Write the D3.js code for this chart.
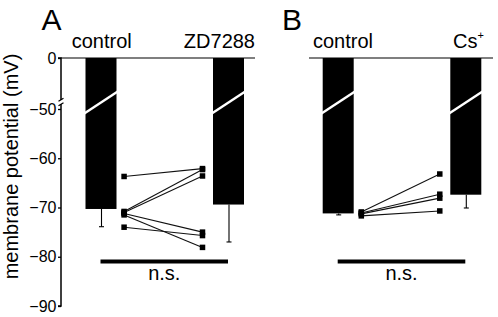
<!DOCTYPE html>
<html>
<head>
<meta charset="utf-8">
<script src="https://cdn.jsdelivr.net/npm/d3@7"></script>
<style>
  body { margin: 0; background: #fff; }
  svg { display: block; font-family: "Liberation Sans", Arial, sans-serif; }
</style>
</head>
<body>
<div id="container"></div>
<script>
const width = 498, height = 317;

// panel A: control vs ZD7288 (mV)
const groupsA = ["control", "ZD7288"];
const meanA = [-70.3, -69.4];
const errA = [-73.9, -77.0];
const pairsA_pre = [-63.7, -70.8, -71.0, -71.2, -71.5, -74.0];
const pairsA_post = [-62.1, -62.3, -63.6, -75.0, -78.1, -75.7];

// panel B: control vs Cs+
const groupsB = ["control", "Cs"];
const meanB = [-71.2, -67.4];
const errB = [-71.5, -70.1];
const pairsB_pre = [-70.9, -71.1, -71.3, -71.7];
const pairsB_post = [-63.2, -67.3, -68.1, -70.7];

const yTicks = [0, -50, -60, -70, -80, -90];

const svg = d3.select("#container").append("svg")
    .attr("width", width).attr("height", height);

// broken axis: 0..-50 squeezed, -50..-90 expanded
const y = d3.scaleLinear().domain([0, -50, -90]).range([58, 109, 306]);

const barW = 31;
const breakY = 102;

function panel(opts) {
    const x = d3.scaleLinear().domain([0, 1]).range(opts.centers);
    const g = svg.append("g");

    // top line at 0 mV
    g.append("line")
        .attr("x1", opts.lineX[0]).attr("x2", opts.lineX[1])
        .attr("y1", y(0)).attr("y2", y(0))
        .attr("stroke", "#000").attr("stroke-width", 1.2);

    // error bars
    g.selectAll("line.err").data(opts.err).join("line")
        .attr("class", "err")
        .attr("x1", (d, i) => x(i) + 1).attr("x2", (d, i) => x(i) + 1)
        .attr("y1", (d, i) => y(opts.mean[i])).attr("y2", d => y(d))
        .attr("stroke", "#000").attr("stroke-width", 1.1);
    g.selectAll("line.cap").data(opts.err).join("line")
        .attr("class", "cap")
        .attr("x1", (d, i) => x(i) - 1.5).attr("x2", (d, i) => x(i) + 3.5)
        .attr("y1", d => y(d)).attr("y2", d => y(d))
        .attr("stroke", "#000").attr("stroke-width", 1.1);

    // bars
    g.selectAll("rect.bar").data(opts.mean).join("rect")
        .attr("class", "bar")
        .attr("x", (d, i) => x(i) - barW / 2 + 0.5)
        .attr("width", barW)
        .attr("y", y(0))
        .attr("height", d => y(d) - y(0))
        .attr("fill", "#000");

    // white slash for the axis break
    g.selectAll("line.slash").data(opts.mean).join("line")
        .attr("class", "slash")
        .attr("x1", (d, i) => x(i) - barW / 2 - 1.5)
        .attr("x2", (d, i) => x(i) + barW / 2 + 2.5)
        .attr("y1", breakY + 12).attr("y2", breakY - 11)
        .attr("stroke", "#fff").attr("stroke-width", 2.4);

    // paired lines
    const px0 = x(0.185), px1 = x(0.8);
    g.selectAll("line.pair").data(opts.pre).join("line")
        .attr("class", "pair")
        .attr("x1", px0).attr("x2", px1)
        .attr("y1", d => y(d)).attr("y2", (d, i) => y(opts.post[i]))
        .attr("stroke", "#111").attr("stroke-width", 1.1);
    const s = 5.5;
    g.selectAll("rect.pre").data(opts.pre).join("rect")
        .attr("class", "pre")
        .attr("x", px0 - s / 2).attr("y", d => y(d) - s / 2)
        .attr("width", s).attr("height", s).attr("fill", "#000");
    g.selectAll("rect.post").data(opts.post).join("rect")
        .attr("class", "post")
        .attr("x", px1 - s / 2).attr("y", d => y(d) - s / 2)
        .attr("width", s).attr("height", s).attr("fill", "#000");

    // n.s. bracket
    g.append("line")
        .attr("x1", x(0)).attr("x2", x(1))
        .attr("y1", 261.5).attr("y2", 261.5)
        .attr("stroke", "#000").attr("stroke-width", 4.2);
    g.append("text")
        .attr("x", x(0.5)).attr("y", 280)
        .attr("text-anchor", "middle")
        .attr("font-size", 20)
        .text("n.s.");

    // panel letter
    g.append("text")
        .attr("x", opts.letterX).attr("y", 30)
        .attr("font-size", 30)
        .text(opts.letter);

    return { g, x };
}

const A = panel({
    centers: [100.5, 228], lineX: [60.7, 255],
    mean: meanA, err: errA, pre: pairsA_pre, post: pairsA_post,
    letter: "A", letterX: 41.5
});
A.g.append("text").attr("x", 101.7).attr("y", 48)
    .attr("text-anchor", "middle").attr("font-size", 20).text(groupsA[0]);
A.g.append("text").attr("x", 255).attr("y", 48)
    .attr("text-anchor", "end").attr("font-size", 20).text(groupsA[1]);

const B = panel({
    centers: [337.7, 465.3], lineX: [309, 493],
    mean: meanB, err: errB, pre: pairsB_pre, post: pairsB_post,
    letter: "B", letterX: 282
});
B.g.append("text").attr("x", 343).attr("y", 48)
    .attr("text-anchor", "middle").attr("font-size", 20).text(groupsB[0]);
const cs = B.g.append("text").attr("x", 453).attr("y", 48)
    .attr("font-size", 20);
cs.append("tspan").text(groupsB[1]);
cs.append("tspan").attr("font-size", 11).attr("dy", -9).text("+");

// y axis (panel A only)
const axis = svg.append("g")
    .attr("transform", "translate(61,0)")
    .call(d3.axisLeft(y).tickValues(yTicks).tickSize(3).tickPadding(1.5).tickFormat(d3.format("d")));
axis.select(".domain").attr("stroke-width", 1.5)
    .attr("d", `M-3,${y(0)}H0V${y(-90)}H-3`);
axis.selectAll(".tick line").attr("stroke-width", 1.3);
axis.selectAll(".tick text")
    .attr("font-size", 16)
    .attr("font-family", "Liberation Sans, Arial, sans-serif")
    .attr("fill", "#000");

// break marks on the axis
axis.append("rect").attr("x", -3).attr("y", breakY - 2).attr("width", 6).attr("height", 4).attr("fill", "#fff");
axis.selectAll("line.brk").data([-2.2, 2.2]).join("line")
    .attr("class", "brk")
    .attr("x1", -2.5).attr("x2", 2.5)
    .attr("y1", d => breakY + d + 1.5).attr("y2", d => breakY + d - 1.5)
    .attr("stroke", "#000").attr("stroke-width", 1.2);

// y label
svg.append("text")
    .attr("transform", "translate(18,166.5) rotate(-90)")
    .attr("text-anchor", "middle")
    .attr("font-size", 20)
    .text("membrane potential (mV)");
</script>
</body>
</html>
